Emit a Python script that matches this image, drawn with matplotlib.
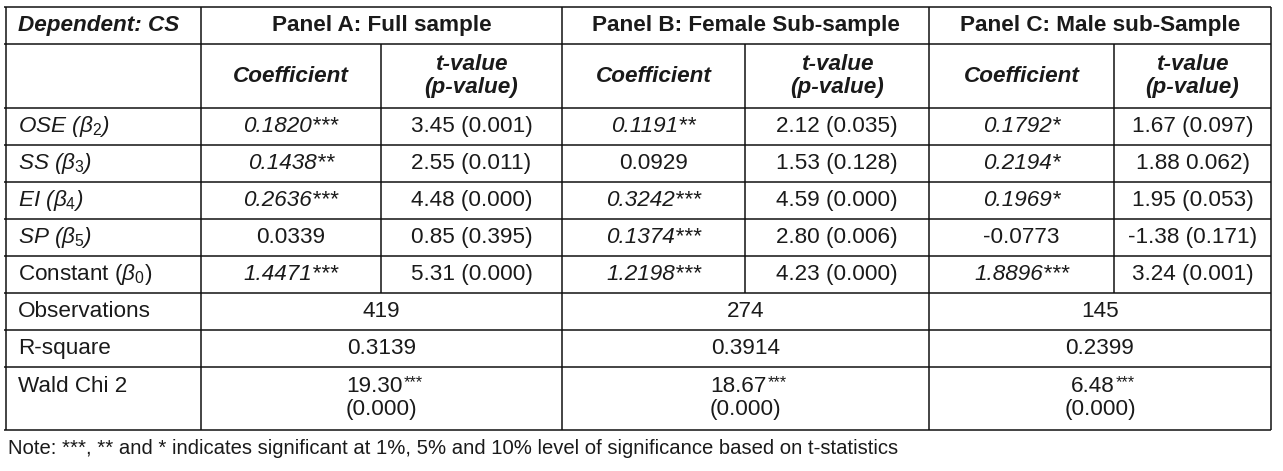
import matplotlib
matplotlib.use("Agg")
import matplotlib.pyplot as plt

plt.rcParams['font.family'] = ['Liberation Sans', 'DejaVu Sans']
plt.rcParams['mathtext.fontset'] = 'custom'
plt.rcParams['mathtext.rm'] = 'Liberation Sans'
plt.rcParams['mathtext.it'] = 'Liberation Sans:italic'
plt.rcParams['mathtext.bf'] = 'Liberation Sans:bold'

# ---------------- data ----------------
panel_titles = ["Panel A: Full sample", "Panel B: Female Sub-sample", "Panel C: Male sub-Sample"]
corner_label = "Dependent: CS"
sub_headers = ["Coefficient", "t-value\n(p-value)"]

var_names = ["OSE", "SS", "EI", "SP", "Constant"]
var_subscripts = ["2", "3", "4", "5", "0"]
var_italic = [True, True, True, True, False]

coef_A = ["0.1820***", "0.1438**", "0.2636***", "0.0339", "1.4471***"]
tval_A = ["3.45 (0.001)", "2.55 (0.011)", "4.48 (0.000)", "0.85 (0.395)", "5.31 (0.000)"]
coef_B = ["0.1191**", "0.0929", "0.3242***", "0.1374***", "1.2198***"]
tval_B = ["2.12 (0.035)", "1.53 (0.128)", "4.59 (0.000)", "2.80 (0.006)", "4.23 (0.000)"]
coef_C = ["0.1792*", "0.2194*", "0.1969*", "-0.0773", "1.8896***"]
tval_C = ["1.67 (0.097)", "1.88 0.062)", "1.95 (0.053)", "-1.38 (0.171)", "3.24 (0.001)"]

observations = ["419", "274", "145"]
r_square = ["0.3139", "0.3914", "0.2399"]
wald_chi2 = ["19.30", "18.67", "6.48"]
wald_stars = ["***", "***", "***"]
wald_p = ["(0.000)", "(0.000)", "(0.000)"]

note = "Note: ***, ** and * indicates significant at 1%, 5% and 10% level of significance based on t-statistics"

# ---------------- layout (pixels) ----------------
W, H = 1283, 471
col_edges = [6, 201, 381, 562, 745, 929, 1114, 1271]
row_edges = [7, 44, 108, 145, 182, 219, 256, 293, 330, 367, 430]
FS = 16.2
TXT = "#1a1a1a"
LW = 1.1

fig = plt.figure(figsize=(W / 100, H / 100), dpi=100)
ax = fig.add_axes([0, 0, 1, 1])
ax.set_xlim(0, W)
ax.set_ylim(H, 0)
ax.axis("off")

def hline(y, x0, x1):
    ax.plot([x0, x1], [y, y], color="#111111", lw=LW, solid_capstyle="butt")

def vline(x, y0, y1):
    ax.plot([x, x], [y0, y1], color="#111111", lw=LW, solid_capstyle="butt")

L, R = col_edges[0], col_edges[-1]
for y in row_edges:
    hline(y, L - 2, R)
top, bot = row_edges[0], row_edges[-1]
vline(L, top, bot)
vline(R, top, bot)
vline(col_edges[1], top, bot)
for k in (3, 5):
    vline(col_edges[k], top, bot)
for k in (2, 4, 6):
    vline(col_edges[k], row_edges[1], row_edges[7])

def mid(a, b):
    return (a + b) / 2

def cell_text(x, y, s, **kw):
    kw.setdefault("fontsize", FS)
    kw.setdefault("color", TXT)
    kw.setdefault("ha", "center")
    kw.setdefault("va", "center")
    return ax.text(x, y, s, **kw)

# header row
cell_text(18, mid(row_edges[0], row_edges[1]), corner_label, ha="left",
          fontweight="bold", style="italic")
for p in range(3):
    x = mid(col_edges[1 + 2 * p], col_edges[3 + 2 * p])
    cell_text(x, mid(row_edges[0], row_edges[1]), panel_titles[p], fontweight="bold")

# sub-header row
for p in range(3):
    c0 = 1 + 2 * p
    cell_text(mid(col_edges[c0], col_edges[c0 + 1]), mid(row_edges[1], row_edges[2]),
              sub_headers[0], fontweight="bold", style="italic")
    cell_text(mid(col_edges[c0 + 1], col_edges[c0 + 2]), mid(row_edges[1], row_edges[2]),
              sub_headers[1], fontweight="bold", style="italic", linespacing=1.15)

# body rows
coefs = [coef_A, coef_B, coef_C]
tvals = [tval_A, tval_B, tval_C]
for i, name in enumerate(var_names):
    y = mid(row_edges[2 + i], row_edges[3 + i])
    label = name + r" ($\beta_{" + var_subscripts[i] + r"}$)"
    cell_text(18, y, label, ha="left", style="italic" if var_italic[i] else "normal")
    for p in range(3):
        c0 = 1 + 2 * p
        cs = coefs[p][i]
        cell_text(mid(col_edges[c0], col_edges[c0 + 1]), y, cs,
                  style="italic" if "*" in cs else "normal")
        cell_text(mid(col_edges[c0 + 1], col_edges[c0 + 2]), y, tvals[p][i])

# summary rows
summary_labels = ["Observations", "R-square", "Wald Chi 2"]
for j, vals in enumerate([observations, r_square]):
    y = mid(row_edges[7 + j], row_edges[8 + j])
    cell_text(18, y, summary_labels[j], ha="left")
    for p in range(3):
        cell_text(mid(col_edges[1 + 2 * p], col_edges[3 + 2 * p]), y, vals[p])

yw = row_edges[9] + 20
cell_text(18, yw, summary_labels[2], ha="left")
for p in range(3):
    x = mid(col_edges[1 + 2 * p], col_edges[3 + 2 * p])
    t = cell_text(x - 7, yw, wald_chi2[p])
    ax.annotate(wald_stars[p], xy=(1, 1), xycoords=t, xytext=(0.5, 1),
                textcoords="offset points", ha="left", va="top",
                fontsize=FS * 0.72, color=TXT)
    cell_text(x, yw + 23, wald_p[p])

cell_text(8, 449, note, ha="left", fontsize=14.6)

fig.savefig("out.png", dpi=100)
